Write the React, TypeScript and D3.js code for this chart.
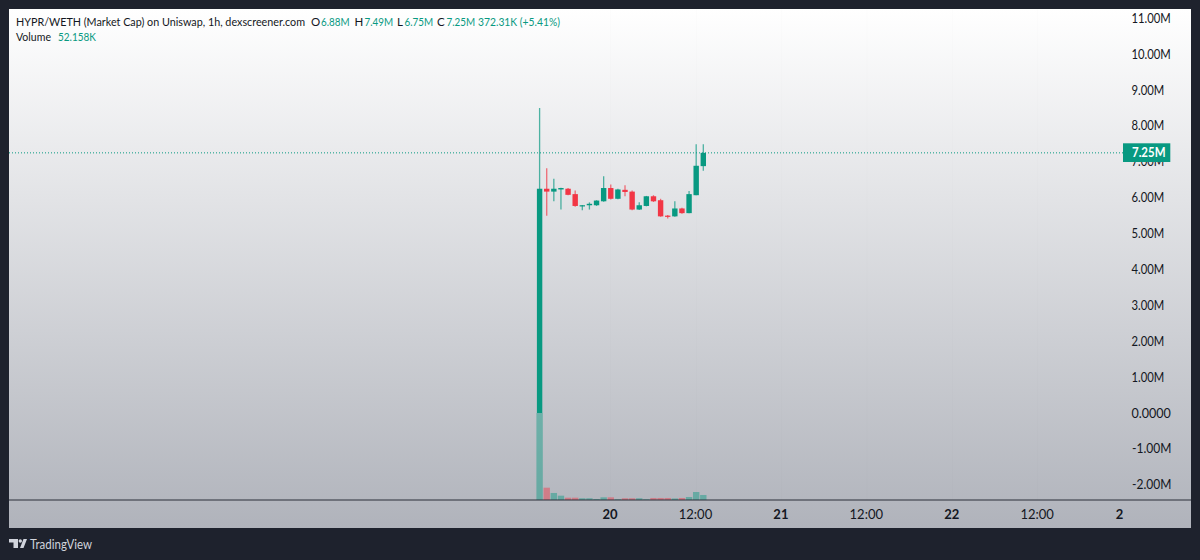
import React from "react";
import * as d3 from "d3";

const opens = [0, 6.25, 6.17, 6.23, 6.25, 6.1, 5.76, 5.79, 5.79, 5.9, 6.27, 5.97, 6.22, 6.17, 5.67, 5.77, 6.04, 5.93, 5.5, 5.48, 5.7, 5.57, 6.07, 6.88];
const highs = [8.5, 6.82, 6.53, 6.28, 6.27, 6.2, 5.8, 5.87, 5.93, 6.6, 6.37, 6.25, 6.35, 6.2, 5.87, 6.05, 6.07, 5.97, 5.52, 5.9, 5.72, 6.19, 7.49, 7.49];
const lows = [0, 5.5, 5.9, 5.67, 6.07, 5.75, 5.65, 5.67, 5.77, 5.89, 5.95, 5.96, 6.04, 5.65, 5.66, 5.76, 5.88, 5.47, 5.42, 5.47, 5.55, 5.57, 6.07, 6.75];
const closes = [6.25, 6.17, 6.25, 6.27, 6.08, 5.77, 5.79, 5.83, 5.92, 6.27, 5.97, 6.23, 6.16, 5.67, 5.79, 6.04, 5.9, 5.48, 5.47, 5.7, 5.57, 6.1, 6.89, 7.25];
const volumes = [905, 128, 73, 45, 24, 24, 18, 18, 10, 28, 28, 7, 18, 18, 18, 7, 21, 21, 21, 16, 21, 31, 83, 52.158];
const priceTicks = [11, 10, 9, 8, 7, 6, 5, 4, 3, 2, 1, 0, -1, -2];
const timeTickHours = [10, 22, 34, 46, 58, 70];
const timeTickLabels = ["20", "12:00", "21", "12:00", "22", "12:00"];
const clippedTickHour = 82;
const clippedTickLabel = "2";
const lastClose = 7.25;
const legendOHLC = [["O", "6.88M", 311, 321], ["H", "7.49M", 354.5, 364.5], ["L", "6.75M", 397, 404.5], ["C", "7.25M", 437, 446.5]] as const;

const W = 1200, H = 560;
const UP = "#089981", DOWN = "#f23645";
const FONT = "Lato, 'Open Sans', sans-serif";
const x = d3.scaleLinear().domain([0, 23]).range([539.6, 703.3]);
const y = d3.scaleLinear().domain([0, 11]).range([413, 18.3]);
const vy = d3.scaleLinear().domain([0, 905]).range([500, 413]);
const fmt = (v: number) => (v === 0 ? "0.0000" : `${v < 0 ? "-" : ""}${Math.abs(v).toFixed(2)}M`);
const fit = { lengthAdjust: "spacingAndGlyphs" as const };

export default function App() {
  return (
    <svg width={W} height={H} viewBox={`0 0 ${W} ${H}`} style={{ position: "fixed", left: 0, top: 0, display: "block" }} fontFamily={FONT}>
      <defs>
        <linearGradient id="bg" x1="0" y1="0" x2="0" y2="1">
          <stop offset="0" stopColor="#ffffff" />
          <stop offset="1" stopColor="#b0b3bb" />
        </linearGradient>
      </defs>
      <rect width={W} height={H} fill="#1e222d" />
      <rect x={9} y={9} width={1182} height={519} fill="url(#bg)" />
      {timeTickHours.map((h) => (
        <line key={h} x1={x(h)} x2={x(h)} y1={9} y2={500} stroke="#000" strokeOpacity={0.012} />
      ))}
      {volumes.map((v, i) => (
        <rect key={i} x={x(i) - 3.2} width={6.4} y={vy(v)} height={500 - vy(v)} fill={closes[i] >= opens[i] ? UP : DOWN} fillOpacity={0.45} />
      ))}
      <line x1={9} x2={1123} y1={y(lastClose)} y2={y(lastClose)} stroke={UP} strokeWidth={1} strokeDasharray="1 2" />
      {opens.map((o, i) => {
        const c = closes[i];
        const col = c >= o ? UP : DOWN;
        const top = y(Math.max(o, c));
        const bot = y(Math.min(o, c));
        return (
          <g key={i}>
            <line x1={x(i)} x2={x(i)} y1={y(highs[i])} y2={y(lows[i])} stroke={col} strokeWidth={1.3} strokeOpacity={0.7} />
            <rect x={x(i) - 2.7} width={5.4} y={top} height={Math.max(bot - top, 1.2)} fill={col} />
          </g>
        );
      })}
      <line x1={9} x2={1191} y1={500} y2={500} stroke="#2a2e39" strokeWidth={1} />
      {priceTicks.map((t) => (
        <text key={t} x={t < 0 ? 1132 : 1131.5} y={y(t) + 4.5} fontSize={13} fill="#131722" textLength={fmt(t).length * 6.55} {...fit}>{fmt(t)}</text>
      ))}
      <rect x={1123} y={143.3} width={47.3} height={18.7} fill={UP} />
      <text x={1132} y={157} fontSize={13} fontWeight={700} fill="#fff" textLength={33.5} {...fit}>{fmt(lastClose)}</text>
      {timeTickHours.map((h, i) => (
        <text key={h} x={x(h) - 0.7} y={518.5} textAnchor="middle" fontSize={13} fontWeight={i % 2 === 0 ? 700 : 400} fill="#131722">{timeTickLabels[i]}</text>
      ))}
      <text x={x(clippedTickHour)} y={518.5} textAnchor="end" fontSize={13} fontWeight={700} fill="#131722">{clippedTickLabel}</text>
      <text x={16} y={26} fontSize={11.5} fill="#131722" textLength={289} {...fit}>HYPR/WETH (Market Cap) on Uniswap, 1h, dexscreener.com</text>
      {legendOHLC.map(([k, v, kx, vx]) => (
        <g key={k} fontSize={11.5}>
          <text x={kx} y={26} fill="#131722">{k}</text>
          <text x={vx} y={26} fill={UP} textLength={28.5} {...fit}>{v}</text>
        </g>
      ))}
      <text x={478} y={26} fontSize={11.5} fill={UP} textLength={82} {...fit}>372.31K (+5.41%)</text>
      <text x={16} y={41} fontSize={11.5} fill="#131722" textLength={35} {...fit}>Volume</text>
      <text x={58} y={41} fontSize={11.5} fill={UP} textLength={38} {...fit}>52.158K</text>
      <path d="M9 539h9v9h-4.5v-5.5H9zM20 548l3.5-9H27l-3.5 9z" fill="#d1d4dc" />
      <circle cx={20.3} cy={541} r={1.7} fill="#d1d4dc" />
      <text x={30} y={549} fontSize={13} fill="#d1d4dc" textLength={62} {...fit}>TradingView</text>
    </svg>
  );
}
